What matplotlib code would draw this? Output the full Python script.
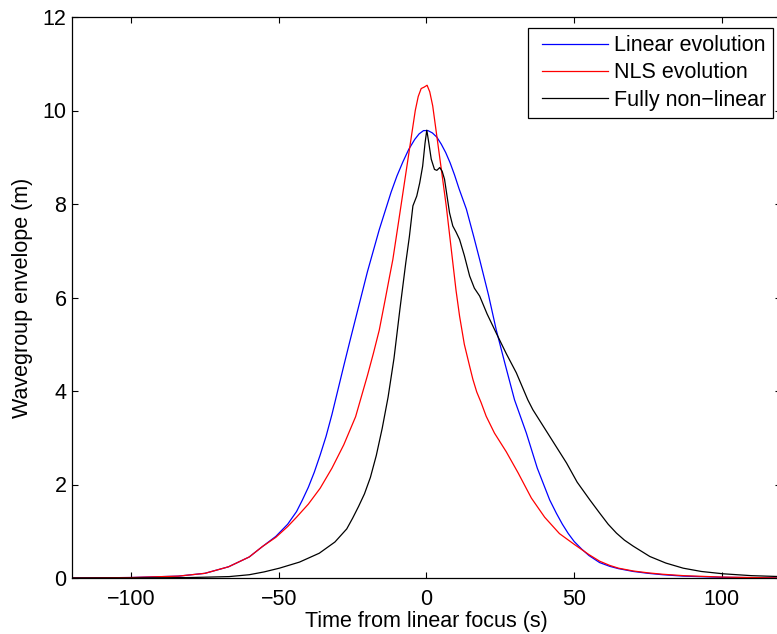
import matplotlib
matplotlib.use("Agg")
import matplotlib.pyplot as plt
from matplotlib.lines import Line2D
from matplotlib.legend_handler import HandlerLine2D

plt.rcParams['font.family'] = ['Liberation Sans', 'DejaVu Sans']

# Linear evolution (blue)
lin_t = [-120, -100, -84, -75, -67, -60, -55.6, -51, -47, -44, -42, -40, -38, -36, -34, -32, -30,
         -28, -26, -24, -22, -20, -18, -16, -14, -12, -10, -8, -6, -4, -2.5, -1, 0.5,
         2, 3.5, 5, 6.5, 8, 9.5, 11, 13.5, 16, 18, 21, 23.6, 26.5, 29.8, 33.8, 37.5, 41.7,
         44, 46, 48, 50, 52.5, 55, 58.6, 62, 65, 70, 75, 80, 87, 100, 120]
lin_a = [0.0, 0.01, 0.04, 0.10, 0.24, 0.45, 0.67, 0.89, 1.15, 1.42, 1.67, 1.94, 2.26, 2.63, 3.03, 3.5, 4.02,
         4.54, 5.05, 5.55, 6.05, 6.55, 7.0, 7.45, 7.85, 8.25, 8.6, 8.9, 9.17, 9.38, 9.5, 9.57, 9.57,
         9.52, 9.43, 9.28, 9.1, 8.88, 8.62, 8.33, 7.89, 7.3, 6.81, 6.05, 5.31, 4.6, 3.81, 3.1, 2.35, 1.67,
         1.38, 1.15, 0.95, 0.78, 0.62, 0.48, 0.33, 0.25, 0.2, 0.14, 0.1, 0.07, 0.04, 0.015, 0.0]

# NLS evolution (red)
nls_t = [-120, -100, -84, -75, -67, -60, -55.6, -51, -47, -44, -40, -36, -32, -28, -24,
         -20, -18, -16, -14, -12.5, -11.4, -9.5, -7.6, -5.7, -3.8, -2.8, -1.8, -0.8, 0.2, 1.1, 2.1,
         3.5, 5, 6.7, 8.9, 10, 11.2, 12.8, 14.6, 15.7, 17, 18.5, 20.2, 23, 27, 31, 35.5, 40, 45,
         50, 55, 58.6, 62, 65, 70, 75, 80, 87, 100, 120]
nls_a = [0.0, 0.01, 0.04, 0.10, 0.24, 0.45, 0.67, 0.87, 1.1, 1.3, 1.58, 1.92, 2.35, 2.85, 3.45,
         4.33, 4.8, 5.3, 5.95, 6.45, 6.81, 7.6, 8.4, 9.2, 10.0, 10.3, 10.47, 10.5, 10.54, 10.4, 10.1,
         9.45, 8.75, 7.95, 6.75, 6.15, 5.6, 5.0, 4.53, 4.25, 3.98, 3.75, 3.46, 3.1, 2.7, 2.25, 1.71, 1.3, 0.95,
         0.72, 0.5, 0.36, 0.27, 0.21, 0.15, 0.11, 0.08, 0.05, 0.02, 0.0]

# Fully non-linear (black)
fnl_t = [-120, -100, -80, -66.8, -60, -55, -49.8, -43, -36.3, -31, -27, -25, -23, -21, -19,
         -17, -15, -13, -11, -9, -7, -5.8, -4.6, -3.3, -2.3, -1.3, -0.5, 0.1, 0.8, 1.6,
         2.7, 3.5, 4.5, 5.3, 6.1, 7.8, 8.9, 10, 11.2, 12.8, 14.6, 16.2, 18, 20.5, 23.6, 27, 30.4,
         34.3, 36, 40, 44, 47.4, 51, 55.3, 58.6, 61.5, 64.3, 67, 70, 75.6, 81, 86.9, 93, 100.4, 110, 120]
fnl_a = [0.0, 0.0, 0.01, 0.03, 0.07, 0.13, 0.21, 0.34, 0.53, 0.77, 1.05, 1.28, 1.53, 1.8, 2.15,
         2.62, 3.2, 3.87, 4.7, 5.75, 6.75, 7.3, 7.96, 8.17, 8.45, 8.81, 9.3, 9.58, 9.3, 8.96,
         8.74, 8.72, 8.78, 8.7, 8.53, 7.81, 7.53, 7.4, 7.24, 6.9, 6.46, 6.2, 6.03, 5.65, 5.24, 4.8, 4.39,
         3.81, 3.6, 3.2, 2.8, 2.46, 2.05, 1.67, 1.39, 1.15, 0.96, 0.81, 0.68, 0.46, 0.32, 0.21, 0.14, 0.09, 0.05, 0.03]

labels = ["Linear evolution", "NLS evolution", "Fully non\u2212linear"]
xticks = [-100, -50, 0, 50, 100]
yticks = [0, 2, 4, 6, 8, 10, 12]

FS = 15.5
W, H = 777, 634
fig = plt.figure(figsize=(W / 100, H / 100), dpi=100)
ax = fig.add_axes([72 / W, (H - 578) / H, (781 - 72) / W, (578 - 17) / H])

ax.plot(lin_t, lin_a, color='#0000ff', lw=0.9, label=labels[0])
ax.plot(nls_t, nls_a, color='#ff0000', lw=0.9, label=labels[1])
ax.plot(fnl_t, fnl_a, color='black', lw=0.9, label=labels[2])

ax.set_xlim(-120, 120)
ax.set_ylim(0, 12)
ax.set_xticks(xticks)
ax.set_yticks(yticks)
ax.set_xticklabels([str(v).replace('-', '\u2212') for v in xticks])
ax.tick_params(direction='in', top=True, right=True, length=4.5, width=0.8,
               labelsize=FS)
ax.tick_params(axis='x', pad=8)
ax.tick_params(axis='y', pad=4)
for s in ax.spines.values():
    s.set_linewidth(0.9)

ax.set_xlabel("Time from linear focus (s)", fontsize=FS, labelpad=1)
ax.set_ylabel("Wavegroup envelope (m)", fontsize=FS, labelpad=7)

leg = ax.legend(loc='upper right', bbox_to_anchor=(773 / W, 1 - 28 / H),
                bbox_transform=fig.transFigure, borderaxespad=0,
                fontsize=FS, handlelength=3.35, handletextpad=0.28,
                labelspacing=0.29, borderpad=0.33, fancybox=False, framealpha=1,
                handler_map={Line2D: HandlerLine2D(xpad=0.28)})
leg.get_frame().set_edgecolor('black')
leg.get_frame().set_linewidth(0.9)

fig.savefig("out.png", dpi=100)
